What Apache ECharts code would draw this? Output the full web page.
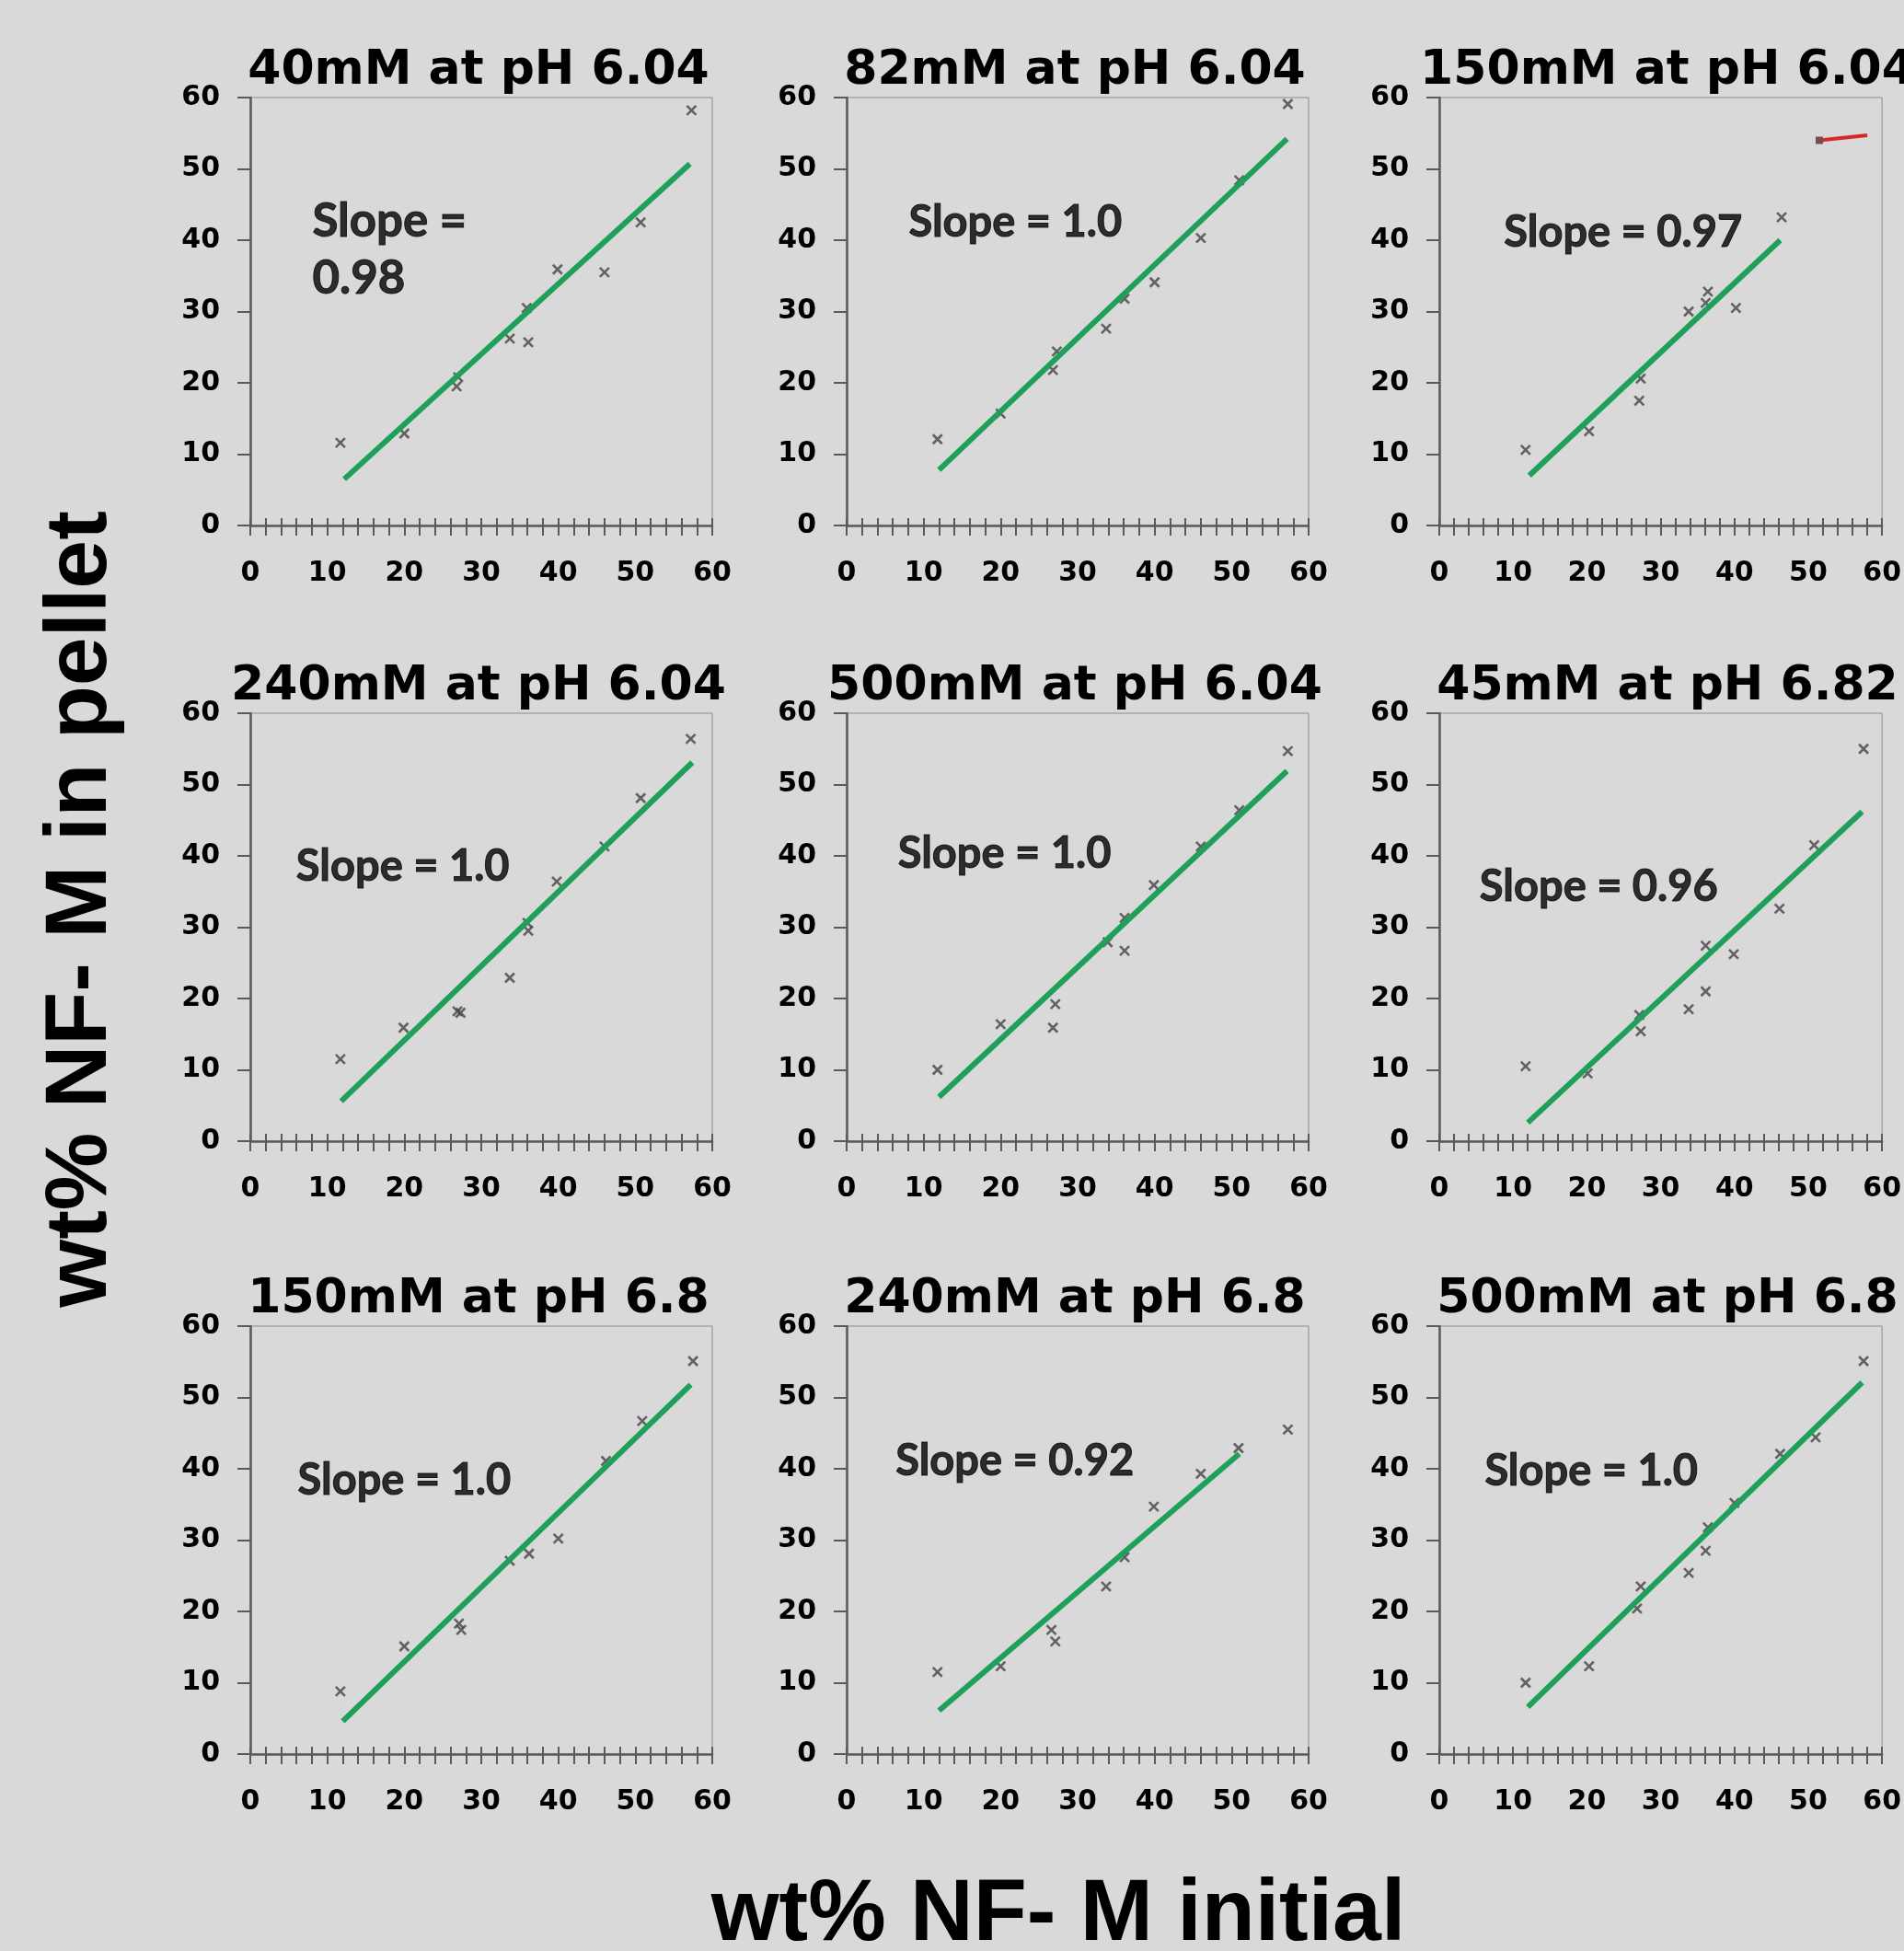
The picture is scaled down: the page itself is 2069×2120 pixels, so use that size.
<!DOCTYPE html>
<html>
<head>
<meta charset="utf-8">
<script src="https://cdn.jsdelivr.net/npm/echarts@6/dist/echarts.min.js"></script>
<style>
html,body{margin:0;padding:0;background:#d9d9d9;}
#c{width:2069px;height:2120px;}
</style>
</head>
<body>
<div id="c"></div>
<script>
// ---- data ----
const titles = [
  '40mM at pH 6.04', '82mM at pH 6.04', '150mM at pH 6.04',
  '240mM at pH 6.04', '500mM at pH 6.04', '45mM at pH 6.82',
  '150mM at pH 6.8', '240mM at pH 6.8', '500mM at pH 6.8'
];
const slopeTexts = [
  'Slope =\n0.98', 'Slope = 1.0', 'Slope = 0.97',
  'Slope = 1.0', 'Slope = 1.0', 'Slope = 0.96',
  'Slope = 1.0', 'Slope = 0.92', 'Slope = 1.0'
];
const xTicks = [0, 10, 20, 30, 40, 50, 60];
const yTicks = [0, 10, 20, 30, 40, 50, 60];

const pts40mM_604 = [[11.7,11.6],[20.0,12.9],[26.8,19.5],[27.0,20.8],[33.7,26.2],[36.1,25.7],[35.9,30.5],[39.9,35.9],[46.0,35.5],[50.7,42.5],[57.3,58.2]];
const pts82mM_604 = [[11.8,12.1],[20.0,15.7],[26.8,21.8],[27.3,24.4],[33.7,27.6],[36.1,31.8],[40.0,34.1],[46.0,40.3],[51.0,48.4],[57.3,59.1]];
const pts150mM_604 = [[11.7,10.6],[20.3,13.2],[27.1,17.5],[27.3,20.6],[33.8,30.0],[36.4,32.8],[36.1,31.2],[40.2,30.5],[46.4,43.2]];
const pts240mM_604 = [[11.7,11.5],[19.9,15.9],[26.9,18.2],[27.3,18.0],[33.7,22.9],[36.1,29.5],[36.0,30.6],[39.8,36.4],[46.0,41.3],[50.7,48.1],[57.2,56.4]];
const pts500mM_604 = [[11.8,10.0],[20.0,16.4],[26.8,15.9],[27.1,19.2],[33.9,27.9],[36.1,26.7],[36.1,31.3],[39.9,35.9],[46.0,41.3],[51.0,46.4],[57.3,54.7]];
const pts45mM_682 = [[11.7,10.5],[20.1,9.5],[27.1,17.7],[27.3,15.4],[33.8,18.5],[36.1,21.0],[36.1,27.4],[39.9,26.2],[46.1,32.6],[50.8,41.5],[57.5,55.0]];
const pts150mM_68 = [[11.7,8.8],[20.0,15.1],[27.1,18.3],[27.4,17.4],[33.7,27.1],[36.2,28.1],[40.0,30.2],[46.2,41.1],[50.9,46.7],[57.5,55.1]];
const pts240mM_68 = [[11.8,11.5],[20.0,12.3],[26.6,17.4],[27.1,15.8],[33.7,23.5],[36.1,27.6],[39.9,34.7],[46.0,39.3],[50.9,42.9],[57.3,45.5]];
const pts500mM_68 = [[11.7,10.0],[20.3,12.3],[26.8,20.4],[27.3,23.5],[33.8,25.4],[36.1,28.5],[36.4,31.8],[40.0,35.2],[46.2,42.1],[51.0,44.4],[57.5,55.1]];

// fitted trend lines (start, end)
const fit40mM_604 = [[12.2,6.5],[57.1,50.7]];
const fit82mM_604 = [[12.0,7.8],[57.2,54.2]];
const fit150mM_604 = [[12.2,7.0],[46.2,40.0]];
const fit240mM_604 = [[11.8,5.6],[57.4,53.1]];
const fit500mM_604 = [[12.0,6.2],[57.2,51.9]];
const fit45mM_682 = [[12.0,2.6],[57.3,46.2]];
const fit150mM_68 = [[12.0,4.6],[57.2,51.8]];
const fit240mM_68 = [[12.0,6.1],[51.0,42.1]];
const fit500mM_68 = [[12.0,6.6],[57.3,52.1]];

// stray red segment in the 150mM pH 6.04 panel
const red150mM_604 = [[51.5,54.0],[58.0,54.7]];

const panelPoints = [pts40mM_604, pts82mM_604, pts150mM_604, pts240mM_604, pts500mM_604, pts45mM_682, pts150mM_68, pts240mM_68, pts500mM_68];
const panelFits = [fit40mM_604, fit82mM_604, fit150mM_604, fit240mM_604, fit500mM_604, fit45mM_682, fit150mM_68, fit240mM_68, fit500mM_68];

// ---- layout (pixels / label anchors) ----
const labelAnchors = [[8.0,38.7],[8.0,42.5],[8.7,41.0],[5.9,38.5],[6.6,40.3],[5.4,35.6],[6.1,38.3],[6.3,41.1],[6.1,39.6]];
const colLeft = [272, 920, 1564];
const rowTop = [106, 775, 1441];
const W = 502, H = 465;
const axisColor = '#5a5a5a';
const green = '#1fa05a';
const tickFont = {color:'#000', fontFamily:'DejaVu Sans', fontWeight:'bold', fontSize:30};

const grids = [], xAxes = [], yAxes = [], series = [], graphics = [];
for (let i = 0; i < 9; i++) {
  const r = Math.floor(i / 3), c = i % 3;
  grids.push({left: colLeft[c], top: rowTop[r], width: W, height: H, show: true,
    borderColor: '#8c8c8c', borderWidth: 1, backgroundColor: 'transparent'});
  xAxes.push({gridIndex: i, type: 'value', min: xTicks[0], max: xTicks[xTicks.length-1], interval: 10, position: 'bottom',
    axisLine: {show: true, onZero: false, lineStyle: {color: axisColor, width: 2.5}},
    axisTick: {show: true, length: 11, lineStyle: {color: axisColor, width: 2}},
    minorTick: {show: true, splitNumber: 5, length: 11, lineStyle: {color: axisColor, width: 2}},
    splitLine: {show: false}, minorSplitLine: {show: false},
    axisLabel: Object.assign({margin: 37}, tickFont)});
  xAxes.push({gridIndex: i, type: 'value', min: xTicks[0], max: xTicks[xTicks.length-1], interval: 10, position: 'bottom',
    axisLine: {show: false, onZero: false},
    axisTick: {show: true, inside: true, length: 8, lineStyle: {color: axisColor, width: 2}},
    minorTick: {show: true, splitNumber: 5, length: 8, lineStyle: {color: axisColor, width: 2}},
    splitLine: {show: false}, minorSplitLine: {show: false},
    axisLabel: {show: false}});
  yAxes.push({gridIndex: i, type: 'value', min: yTicks[0], max: yTicks[yTicks.length-1], interval: 10,
    axisLine: {show: true, onZero: false, lineStyle: {color: axisColor, width: 2.5}},
    axisTick: {show: true, length: 14, lineStyle: {color: axisColor, width: 2}},
    splitLine: {show: false},
    axisLabel: Object.assign({margin: 33}, tickFont)});

  series.push({type: 'scatter', xAxisIndex: 2*i, yAxisIndex: i, data: panelPoints[i],
    symbol: 'path://M0,0L10,10M10,0L0,10', symbolSize: 10,
    itemStyle: {color: 'transparent', borderColor: '#444', borderWidth: 2.6}, z: 3});
  series.push({type: 'line', xAxisIndex: 2*i, yAxisIndex: i, data: panelFits[i], symbol: 'none',
    lineStyle: {color: green, width: 6}, z: 4});
  const two = slopeTexts[i].indexOf('\n') >= 0;
  series.push({type: 'scatter', xAxisIndex: 2*i, yAxisIndex: i, data: [labelAnchors[i]],
    symbolSize: 1, itemStyle: {color: 'rgba(0,0,0,0)'}, z: 5,
    label: {show: true, position: 'right', distance: 0, formatter: slopeTexts[i],
      color: '#000', textBorderColor: '#000', textBorderWidth: 1,
      fontFamily: 'Lato', fontWeight: 'bold', fontSize: two ? 51 : 47, lineHeight: two ? 62 : 56}});

  graphics.push({type: 'text', x: colLeft[c] + W/2 - 3, y: rowTop[r] - 29, z: 10,
    style: {text: titles[i], fontFamily: 'DejaVu Sans', fontWeight: 'bold', fontSize: 52,
      fill: '#000', align: 'center', verticalAlign: 'middle'}});
}
// red segment, panel 3
series.push({type: 'line', xAxisIndex: 4, yAxisIndex: 2,
  data: [{value: red150mM_604[0], symbol: 'rect', symbolSize: 8, itemStyle: {color: '#7a4a58'}},
         {value: red150mM_604[1], symbol: 'none'}],
  lineStyle: {color: '#d42a2a', width: 4}, itemStyle: {color: '#d42a2a'}, z: 4});

graphics.push({type: 'text', x: 1150, y: 2082, z: 10,
  style: {text: 'wt% NF- M initial', fontFamily: 'Liberation Sans', fontWeight: 'bold', fontSize: 95,
    fill: '#000', align: 'center', verticalAlign: 'middle'}});
graphics.push({type: 'text', x: 89, y: 988, rotation: Math.PI / 2, z: 10,
  style: {text: 'wt% NF- M in pellet', fontFamily: 'Liberation Sans', fontWeight: 'bold', fontSize: 95,
    fill: '#000', align: 'center', verticalAlign: 'middle'}});

const chart = echarts.init(document.getElementById('c'), null, {renderer: 'canvas'});
chart.setOption({
  backgroundColor: '#d9d9d9',
  animation: false,
  tooltip: {show: false},
  grid: grids,
  xAxis: xAxes,
  yAxis: yAxes,
  series: series,
  graphic: graphics
});
</script>
</body>
</html>
